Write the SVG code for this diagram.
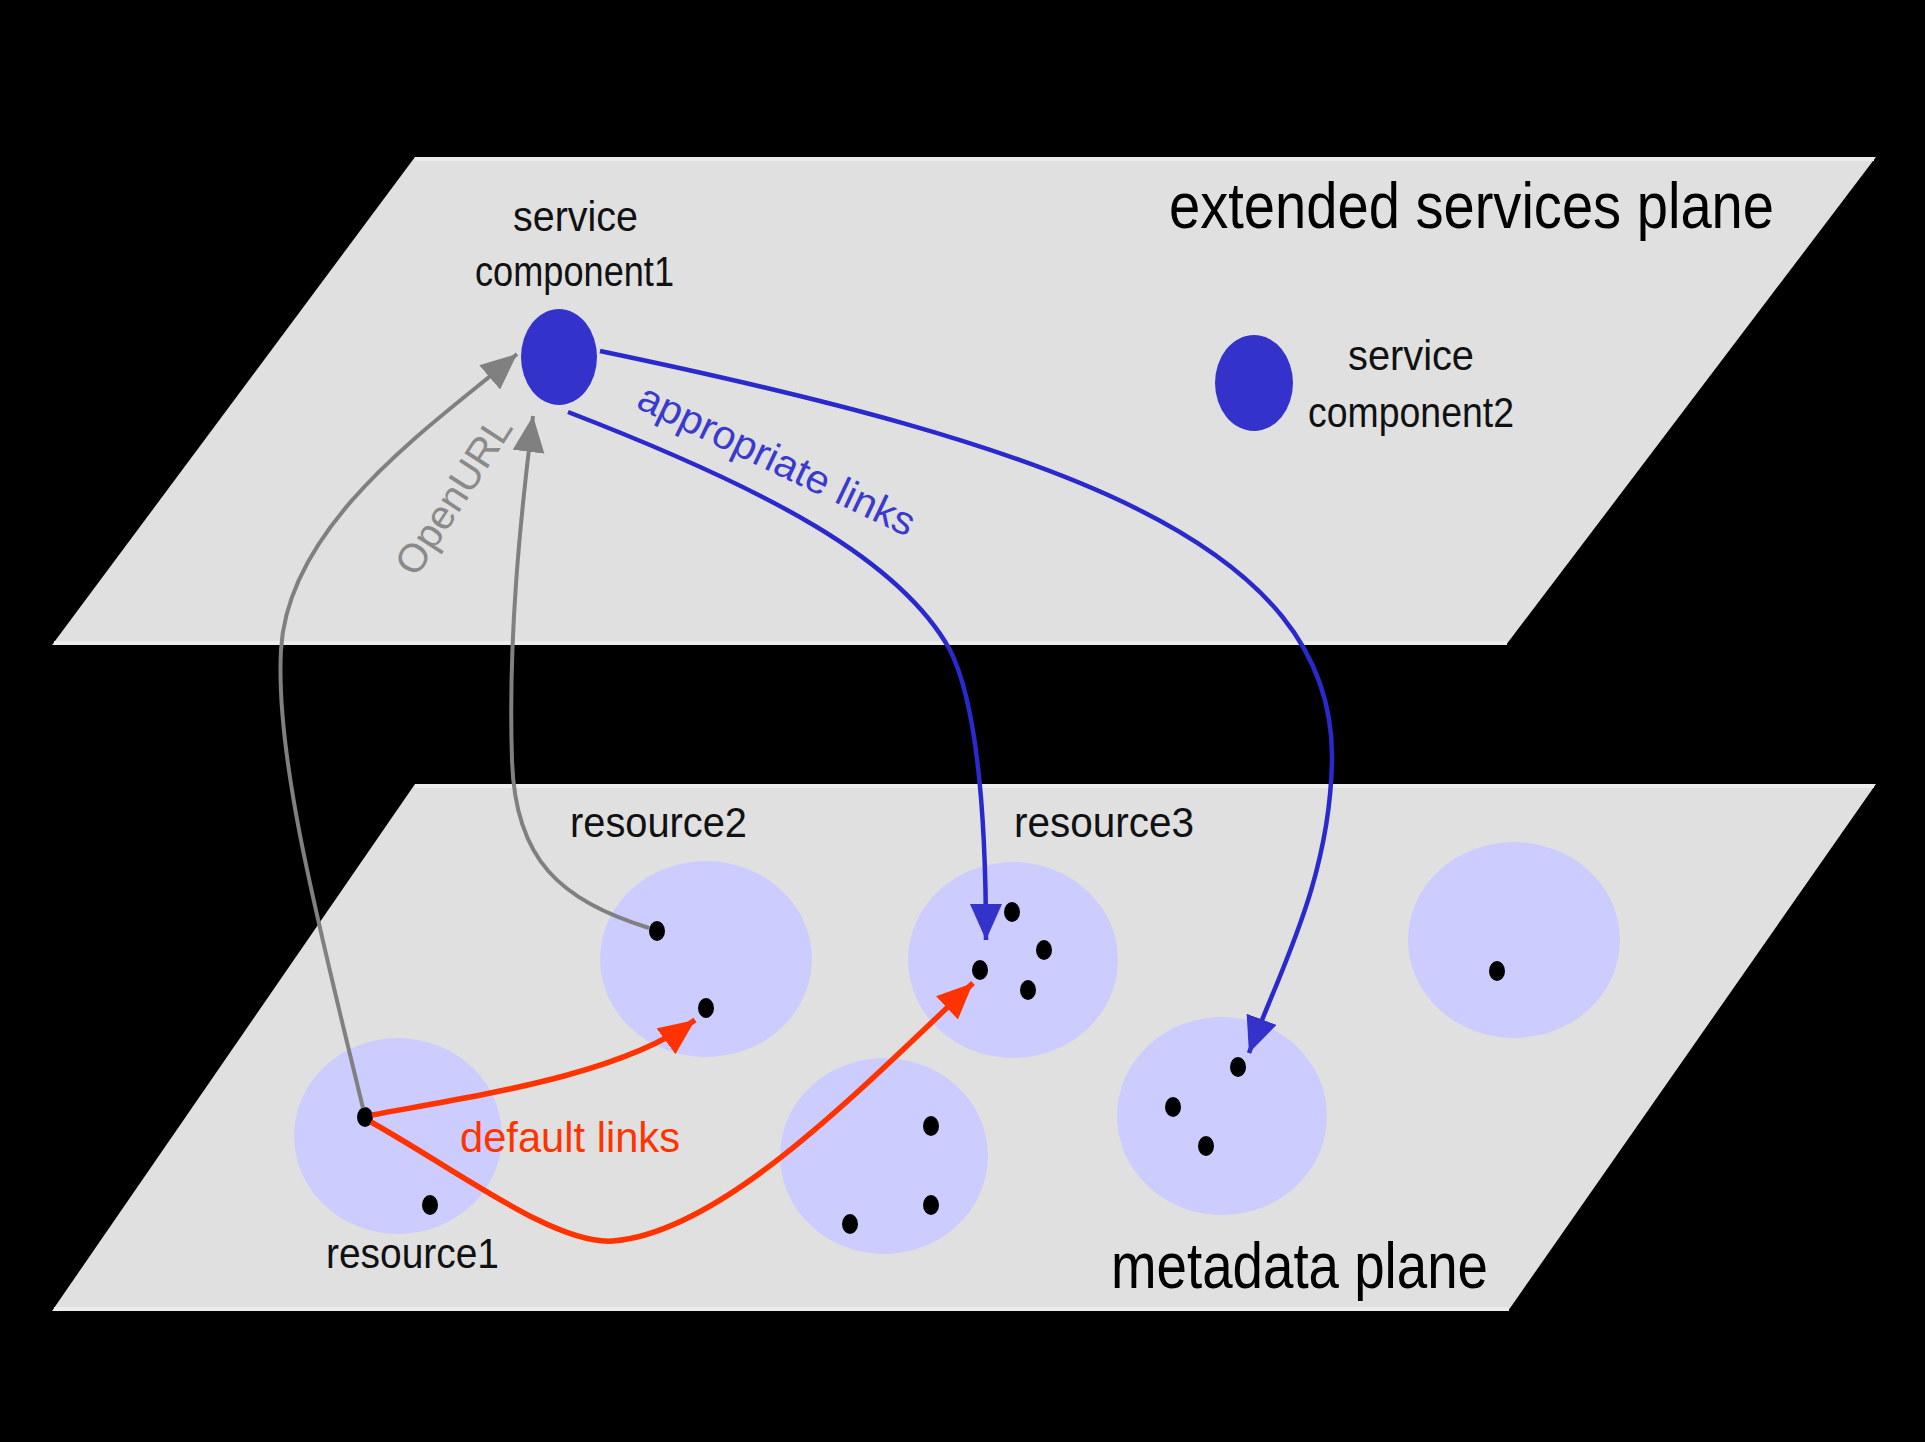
<svg xmlns="http://www.w3.org/2000/svg" width="1925" height="1442" viewBox="0 0 1925 1442">
<style>
text{font-family:"Liberation Sans",Arial,sans-serif;}
.plane{fill:#e0e0e0;}
.edge{stroke:#ececec;stroke-width:4;}
.res{fill:#ccccff;}
.dot{fill:#000;}
.svc{fill:#3333cc;}
.lbl{font-size:42px;fill:#111;}
.big{font-size:64px;fill:#000;}
.gray{fill:none;stroke:#808080;stroke-width:4;}
.blue{fill:none;stroke:#2a2acc;stroke-width:4.5;}
.red{fill:none;stroke:#ff3300;stroke-width:5.5;}
</style>
<defs>
<marker id="ag" markerUnits="userSpaceOnUse" markerWidth="40" markerHeight="34" refX="36" refY="16" orient="auto"><path d="M0,0 L36,16 L0,32 z" fill="#808080"/></marker>
<marker id="ab" markerUnits="userSpaceOnUse" markerWidth="40" markerHeight="34" refX="36" refY="16" orient="auto"><path d="M0,0 L36,16 L0,32 z" fill="#3333cc"/></marker>
<marker id="ar" markerUnits="userSpaceOnUse" markerWidth="40" markerHeight="34" refX="36" refY="16" orient="auto"><path d="M0,0 L36,16 L0,32 z" fill="#ff3300"/></marker>
</defs>
<rect x="0" y="0" width="1925" height="1442" fill="#000"/>

<g id="extended-services-plane">
<polygon class="plane" points="415,157 1876,157 1506,645 52,645"/>
<line class="edge" x1="415" y1="159" x2="1874" y2="159"/>
<line class="edge" x1="54" y1="643" x2="1507" y2="643"/>
<text class="big" x="1169" y="228" textLength="605" lengthAdjust="spacingAndGlyphs">extended services plane</text>
</g>

<g id="metadata-plane">
<polygon class="plane" points="415,784 1876,784 1508,1311 52,1311"/>
<line class="edge" x1="415" y1="786" x2="1874" y2="786"/>
<line class="edge" x1="54" y1="1309" x2="1509" y2="1309"/>
<text class="big" x="1111" y="1288" textLength="377" lengthAdjust="spacingAndGlyphs">metadata plane</text>
</g>

<g id="resource1">
<ellipse class="res" cx="398" cy="1136" rx="104" ry="98"/>
<ellipse class="dot" cx="365" cy="1117" rx="8" ry="10"/>
<ellipse class="dot" cx="430" cy="1205" rx="8" ry="10"/>
<text class="lbl" x="326" y="1268" textLength="173" lengthAdjust="spacingAndGlyphs">resource1</text>
</g>

<g id="resource2">
<ellipse class="res" cx="706" cy="959" rx="106" ry="98"/>
<ellipse class="dot" cx="657" cy="931" rx="8" ry="10"/>
<ellipse class="dot" cx="706" cy="1008" rx="8" ry="10"/>
<text class="lbl" x="570" y="837" textLength="177" lengthAdjust="spacingAndGlyphs">resource2</text>
</g>

<g id="resource3">
<ellipse class="res" cx="1013" cy="960" rx="105" ry="98"/>
<ellipse class="dot" cx="1012" cy="912" rx="8" ry="10"/>
<ellipse class="dot" cx="1044" cy="950" rx="8" ry="10"/>
<ellipse class="dot" cx="980" cy="970" rx="8" ry="10"/>
<ellipse class="dot" cx="1028" cy="990" rx="8" ry="10"/>
<text class="lbl" x="1014" y="837" textLength="180" lengthAdjust="spacingAndGlyphs">resource3</text>
</g>

<g id="resource4">
<ellipse class="res" cx="884" cy="1156" rx="104" ry="98"/>
<ellipse class="dot" cx="931" cy="1126" rx="8" ry="10"/>
<ellipse class="dot" cx="931" cy="1205" rx="8" ry="10"/>
<ellipse class="dot" cx="850" cy="1224" rx="8" ry="10"/>
</g>

<g id="resource5">
<ellipse class="res" cx="1222" cy="1116" rx="105" ry="99"/>
<ellipse class="dot" cx="1238" cy="1067" rx="8" ry="10"/>
<ellipse class="dot" cx="1173" cy="1107" rx="8" ry="10"/>
<ellipse class="dot" cx="1206" cy="1146" rx="8" ry="10"/>
</g>

<g id="resource6">
<ellipse class="res" cx="1514" cy="940" rx="106" ry="98"/>
<ellipse class="dot" cx="1497" cy="971" rx="8" ry="10"/>
</g>

<g id="service-component1">
<ellipse class="svc" cx="559" cy="357" rx="38" ry="48"/>
<text class="lbl" x="513" y="231" textLength="125" lengthAdjust="spacingAndGlyphs">service</text>
<text class="lbl" x="475" y="286" textLength="199" lengthAdjust="spacingAndGlyphs">component1</text>
</g>

<g id="service-component2">
<ellipse class="svc" cx="1254" cy="383" rx="39" ry="48"/>
<text class="lbl" x="1348" y="370" textLength="126" lengthAdjust="spacingAndGlyphs">service</text>
<text class="lbl" x="1308" y="427" textLength="206" lengthAdjust="spacingAndGlyphs">component2</text>
</g>

<g id="connectors">
<path class="gray" marker-end="url(#ag)" d="M 363 1108 C 320 930, 275 760, 281 650 C 288 520, 440 420, 517 354"/>
<path class="gray" marker-end="url(#ag)" d="M 649 928 C 560 900, 515 860, 512 760 C 508 640, 520 520, 533 416"/>
<path class="blue" marker-end="url(#ab)" d="M 568 412 C 770 490, 900 560, 950 650 C 975 700, 986 800, 986 940"/>
<path class="blue" marker-end="url(#ab)" d="M 600 351 C 1050 445, 1335 540, 1332 760 C 1330 880, 1280 970, 1249 1053"/>
<path class="red" marker-end="url(#ar)" d="M 372 1115 C 480 1095, 620 1075, 695 1020"/>
<path class="red" marker-end="url(#ar)" d="M 371 1122 C 460 1172, 555 1245, 613 1241 C 720 1232, 850 1100, 973 983"/>
<text x="465" y="503" font-size="40" fill="#8a8a8a" text-anchor="middle" textLength="180" lengthAdjust="spacingAndGlyphs" transform="rotate(-57 465 503)">OpenURL</text>
<text x="771" y="472" font-size="40" fill="#3a3acc" text-anchor="middle" textLength="302" lengthAdjust="spacingAndGlyphs" transform="rotate(25.5 771 472)">appropriate links</text>
<text x="460" y="1152" font-size="42" fill="#ff3300" textLength="220" lengthAdjust="spacingAndGlyphs">default links</text>
</g>
</svg>
